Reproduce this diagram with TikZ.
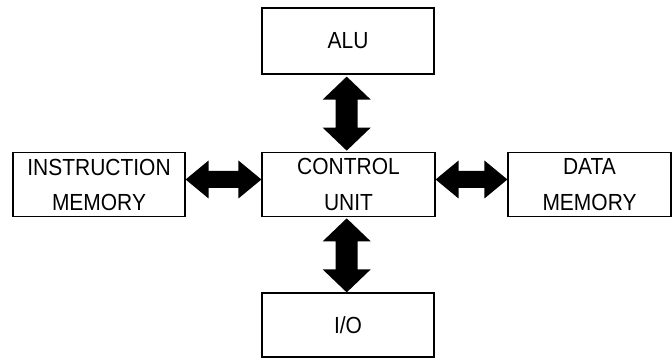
\documentclass[tikz,border=0pt]{standalone}
\usepackage{fontspec}
\setmainfont[FakeStretch=0.9]{Liberation Sans}
\usetikzlibrary{calc}
\tikzset{
  blk/.style={draw=black, line width=1.2pt, fill=white, inner sep=0pt, align=center,
    font=\fontsize{23.3}{35.3}\selectfont},
}
\newcommand{\vdblarrow}[2]{%
  \fill let \p1=(#1), \p2=(#2) in
    (\x1,\y1) -- (\x1+24pt,\y1-23pt) -- (\x1+11pt,\y1-23pt) -- (\x1+11pt,\y2+23pt)
    -- (\x1+24pt,\y2+23pt) -- (\x1,\y2) -- (\x1-24pt,\y2+23pt) -- (\x1-11pt,\y2+23pt)
    -- (\x1-11pt,\y1-23pt) -- (\x1-24pt,\y1-23pt) -- cycle;}
\newcommand{\hdblarrow}[2]{%
  \fill let \p1=(#1), \p2=(#2) in
    (\x1,\y1) -- (\x1+23pt,\y1+19pt) -- (\x1+23pt,\y1+8.5pt) -- (\x2-23pt,\y1+8.5pt)
    -- (\x2-23pt,\y1+19pt) -- (\x2,\y1) -- (\x2-23pt,\y1-19pt) -- (\x2-23pt,\y1-8.5pt)
    -- (\x1+23pt,\y1-8.5pt) -- (\x1+23pt,\y1-19pt) -- cycle;}
\begin{document}
\begin{tikzpicture}[x=1pt,y=1pt]
\useasboundingbox (0,0) rectangle (672,358);
\node[blk, minimum width=172pt, minimum height=66pt] (alu) at (348,317) {ALU};
\node[blk, minimum width=173pt, minimum height=64.5pt] (cu) at (348.5,173.5) {CONTROL\\UNIT};
\node[blk, minimum width=172pt, minimum height=64pt] (io) at (348,33) {I/O};
\node[blk, minimum width=172pt, minimum height=64pt] (im) at (99,173.3) {INSTRUCTION\\MEMORY};
\node[blk, minimum width=163pt, minimum height=64pt] (dm) at (589.5,173.3) {DATA\\MEMORY};
\coordinate (a1) at ($(alu.south)+(-1.3,-2)$);
\coordinate (a2) at ($(cu.north)+(-1.3,1)$);
\coordinate (b1) at ($(cu.south)+(-1.8,-1)$);
\coordinate (b2) at ($(io.north)+(-1.3,0)$);
\coordinate (c1) at ($(im.east)+(0,5.2)$);
\coordinate (c2) at ($(cu.west)+(0,5)$);
\coordinate (d1) at ($(cu.east)+(0,5)$);
\coordinate (d2) at ($(dm.west)+(0,5.2)$);
\vdblarrow{a1}{a2}
\vdblarrow{b1}{b2}
\hdblarrow{c1}{c2}
\hdblarrow{d1}{d2}
\end{tikzpicture}
\end{document}
